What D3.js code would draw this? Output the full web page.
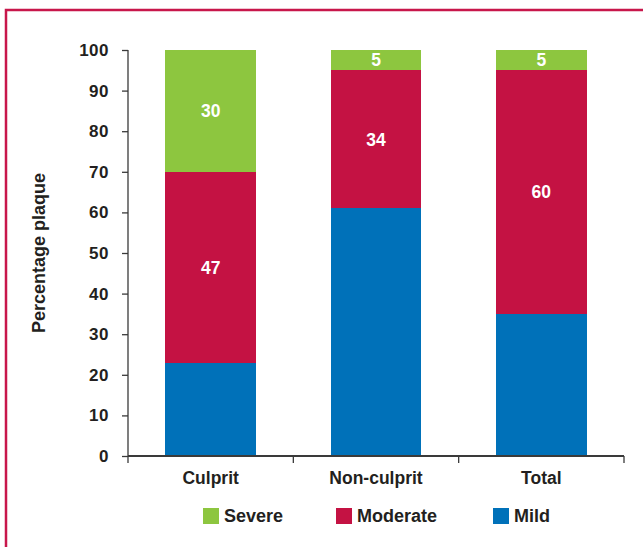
<!DOCTYPE html>
<html>
<head>
<meta charset="utf-8">
<script src="https://cdn.jsdelivr.net/npm/d3@7/dist/d3.min.js"></script>
<style>
  html, body { margin: 0; padding: 0; background: #fff; }
  svg { display: block; font-family: "Liberation Sans", Arial, sans-serif; }
</style>
</head>
<body>
<svg id="chart" width="643" height="547"></svg>
<script>
// Plaque severity by lesion group (percent of plaques)
const categories = ["Culprit", "Non-culprit", "Total"];
const seriesNames = ["Mild", "Moderate", "Severe"];
const mild = [23, 61, 35];
const moderate = [47, 34, 60];
const severe = [30, 5, 5];
const yTicks = [0, 10, 20, 30, 40, 50, 60, 70, 80, 90, 100];
const legendOrder = ["Severe", "Moderate", "Mild"];

const colors = { Mild: "#0071b9", Moderate: "#c41243", Severe: "#8dc63f" };
const textColor = "#231f20";
const axisColor = "#3a3a3a";

const svg = d3.select("#chart");

// outer frame
svg.append("rect")
  .attr("x", 6).attr("y", 10)
  .attr("width", 700).attr("height", 600)
  .attr("fill", "none")
  .attr("stroke", "#c8174b")
  .attr("stroke-width", 2.5);

const x0 = 128, x1 = 624, y0 = 456, y1 = 50;

const x = d3.scaleBand().domain(categories).range([x0, x1]).paddingInner(0.45).paddingOuter(0.225);
const y = d3.scaleLinear().domain([0, 100]).range([y0, y1]);

// stacked data
const rows = categories.map((c, i) => ({ category: c, Mild: mild[i], Moderate: moderate[i], Severe: severe[i] }));
const stacked = d3.stack().keys(seriesNames)(rows);

const g = svg.append("g");
stacked.forEach(layer => {
  const key = layer.key;
  g.selectAll(null)
    .data(layer)
    .enter()
    .append("rect")
    .attr("x", d => x(d.data.category))
    .attr("width", x.bandwidth())
    .attr("y", d => y(d[1]))
    .attr("height", d => y(d[0]) - y(d[1]))
    .attr("fill", colors[key])
    .attr("shape-rendering", "crispEdges");

  // value labels on moderate and severe segments
  if (key !== "Mild") {
    g.selectAll(null)
      .data(layer)
      .enter()
      .append("text")
      .attr("x", d => x(d.data.category) + x.bandwidth() / 2)
      .attr("y", d => (y(d[0]) + y(d[1])) / 2)
      .attr("dy", "0.36em")
      .attr("text-anchor", "middle")
      .attr("fill", "#fff")
      .attr("font-weight", "bold")
      .attr("font-size", 17.5)
      .text(d => d.data[key]);
  }
});

// y axis
const yAxis = d3.axisLeft(y).tickValues(yTicks).tickSize(6).tickPadding(13).tickSizeOuter(0);
const ya = svg.append("g").attr("transform", `translate(${x0},0)`).call(yAxis);
ya.select(".domain").attr("stroke", axisColor).attr("stroke-width", 1.3)
  .attr("d", `M0,${y1}V${y0 + 7}`);
ya.selectAll(".tick line").attr("stroke", axisColor).attr("stroke-width", 1.3);
ya.selectAll(".tick text")
  .attr("fill", textColor)
  .attr("font-size", 17)
  .attr("font-weight", "bold")
  .attr("letter-spacing", 0.5)
  .attr("font-family", "Liberation Sans, Arial, sans-serif");

// x axis: boundary ticks between categories
const xa = svg.append("g").attr("transform", `translate(0,${y0})`);
xa.append("path")
  .attr("d", `M${x0},0H${x1}`)
  .attr("stroke", axisColor)
  .attr("stroke-width", 2);
const boundaries = [x0].concat(categories.map(c => x(c) + x.bandwidth() + x.step() * x.paddingInner() / 2));
boundaries[boundaries.length - 1] = x1;
xa.selectAll("line.bound")
  .data(boundaries.slice(1))
  .enter()
  .append("line")
  .attr("x1", d => d).attr("x2", d => d)
  .attr("y1", 0).attr("y2", 7)
  .attr("stroke", axisColor)
  .attr("stroke-width", 1.3);

xa.selectAll("text.cat")
  .data(categories)
  .enter()
  .append("text")
  .attr("x", d => x(d) + x.bandwidth() / 2)
  .attr("y", 28)
  .attr("text-anchor", "middle")
  .attr("fill", textColor)
  .attr("font-size", 17.5)
  .attr("font-weight", "bold")
  .text(d => d);

// y axis title
svg.append("text")
  .attr("transform", `translate(45,${(y0 + y1) / 2}) rotate(-90)`)
  .attr("text-anchor", "middle")
  .attr("fill", textColor)
  .attr("font-size", 18)
  .attr("font-weight", "bold")
  .text("Percentage plaque");

// legend
const legendX = [203, 336, 493];
const lg = svg.append("g").selectAll("g")
  .data(legendOrder)
  .enter()
  .append("g")
  .attr("transform", (d, i) => `translate(${legendX[i]},508)`);
lg.append("rect")
  .attr("width", 16).attr("height", 16)
  .attr("fill", d => colors[d]);
lg.append("text")
  .attr("x", 21).attr("y", 8)
  .attr("dy", "0.36em")
  .attr("fill", textColor)
  .attr("font-size", 18)
  .attr("font-weight", "bold")
  .text(d => d);
</script>
</body>
</html>
